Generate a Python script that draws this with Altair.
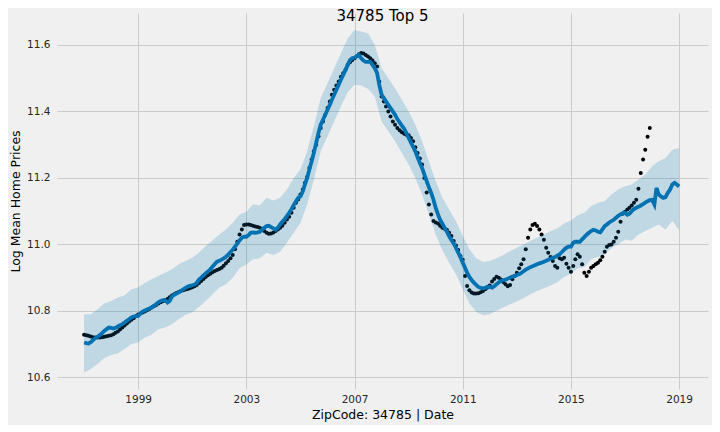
import altair as alt
import pandas as pd

TITLE = "34785 Top 5"
X_TITLE = "ZipCode: 34785 | Date"
Y_TITLE = "Log Mean Home Prices"

X_TICK_YEARS = [1999, 2003, 2007, 2011, 2015, 2019]
Y_TICKS = [10.6, 10.8, 11.0, 11.2, 11.4, 11.6]

# observed log mean price, monthly 1997-01 .. 2017-12
OBSERVED = [
    10.728, 10.727, 10.725, 10.723, 10.721, 10.720, 10.720, 10.720, 10.721, 10.722, 10.724, 10.725,
    10.727, 10.730, 10.734, 10.738, 10.744, 10.750, 10.756, 10.762, 10.768, 10.773, 10.778, 10.784,
    10.789, 10.792, 10.795, 10.798, 10.802, 10.806, 10.810, 10.814, 10.818, 10.822, 10.826, 10.829,
    10.832, 10.836, 10.841, 10.846, 10.850, 10.854, 10.857, 10.860, 10.862, 10.864, 10.866, 10.868,
    10.871, 10.874, 10.878, 10.884, 10.890, 10.896, 10.902, 10.907, 10.912, 10.916, 10.920, 10.923,
    10.926, 10.930, 10.936, 10.943, 10.950, 10.958, 10.968, 10.985, 11.008, 11.030, 11.045, 11.058,
    11.060, 11.060, 11.058, 11.056, 11.054, 11.052, 11.050, 11.046, 11.040, 11.035, 11.032, 11.033,
    11.036, 11.040, 11.045, 11.050, 11.056, 11.065, 11.075, 11.083, 11.095, 11.110, 11.125, 11.135,
    11.150, 11.165, 11.185, 11.203, 11.230, 11.255, 11.280, 11.300, 11.325, 11.350, 11.370, 11.390,
    11.410, 11.430, 11.450, 11.465, 11.478, 11.490, 11.504, 11.515, 11.525, 11.540, 11.548, 11.555,
    11.560, 11.566, 11.572, 11.576, 11.574, 11.570, 11.565, 11.560, 11.553, 11.545, 11.535, 11.490,
    11.445, 11.430, 11.415, 11.400, 11.385, 11.370, 11.360, 11.350, 11.343, 11.337, 11.333, 11.330,
    11.328, 11.320, 11.310, 11.292, 11.275, 11.258, 11.240, 11.200, 11.156, 11.120, 11.090, 11.070,
    11.066, 11.063, 11.056, 11.050, 11.047, 11.044, 11.035, 11.025, 11.010, 10.997, 10.983, 10.965,
    10.954, 10.905, 10.875, 10.862, 10.855, 10.852, 10.852, 10.853, 10.856, 10.860, 10.865, 10.870,
    10.876, 10.888, 10.896, 10.903, 10.900, 10.894, 10.887, 10.880, 10.874, 10.878, 10.895, 10.905,
    10.915, 10.928, 10.940, 10.955, 10.985, 11.020, 11.045, 11.058, 11.062, 11.055, 11.045, 11.030,
    11.014, 10.990, 10.975, 10.962, 10.950, 10.935, 10.930, 10.958, 10.955, 10.960, 10.942, 10.930,
    10.918, 10.935, 10.955, 10.970, 10.963, 10.940, 10.915, 10.905, 10.918, 10.930, 10.935, 10.940,
    10.945, 10.952, 10.963, 10.978, 10.993, 10.998, 11.000, 11.008, 11.020, 11.038, 11.068, 11.092,
    11.098, 11.105, 11.110, 11.117, 11.125, 11.134, 11.167, 11.215, 11.255, 11.285, 11.324, 11.350,
]

# fitted trend, monthly 1997-01 .. 2019-01
YHAT = [
    10.705, 10.703, 10.702, 10.706, 10.712, 10.718, 10.722, 10.727, 10.733, 10.740, 10.745, 10.750,
    10.749, 10.747, 10.749, 10.753, 10.757, 10.760, 10.765, 10.770, 10.775, 10.780, 10.783, 10.784,
    10.785, 10.792, 10.798, 10.801, 10.804, 10.807, 10.810, 10.815, 10.820, 10.826, 10.830, 10.832,
    10.832, 10.825, 10.830, 10.843, 10.848, 10.852, 10.856, 10.860, 10.865, 10.869, 10.873, 10.875,
    10.877, 10.879, 10.884, 10.894, 10.900, 10.907, 10.913, 10.919, 10.925, 10.933, 10.941, 10.948,
    10.951, 10.954, 10.958, 10.963, 10.969, 10.977, 10.984, 10.993, 11.002, 11.012, 11.020, 11.023,
    11.023, 11.028, 11.035, 11.036, 11.035, 11.036, 11.038, 11.044, 11.050, 11.055, 11.056, 11.052,
    11.048, 11.044, 11.050, 11.060, 11.068, 11.076, 11.085, 11.095, 11.106, 11.118, 11.130, 11.140,
    11.145, 11.160, 11.180, 11.200, 11.225, 11.250, 11.276, 11.305, 11.335, 11.360, 11.375, 11.390,
    11.405, 11.420, 11.435, 11.450, 11.465, 11.480, 11.495, 11.510, 11.525, 11.540, 11.555, 11.560,
    11.562, 11.566, 11.570, 11.560, 11.553, 11.549, 11.549, 11.549, 11.540, 11.530, 11.516, 11.480,
    11.450, 11.440, 11.430, 11.420, 11.410, 11.400, 11.390, 11.377, 11.367, 11.357, 11.348, 11.335,
    11.320, 11.306, 11.294, 11.280, 11.262, 11.245, 11.230, 11.210, 11.190, 11.172, 11.155, 11.135,
    11.110, 11.090, 11.074, 11.062, 11.050, 11.038, 11.025, 11.013, 11.003, 10.990, 10.975, 10.962,
    10.945, 10.930, 10.915, 10.902, 10.893, 10.885, 10.878, 10.872, 10.869, 10.868, 10.869, 10.873,
    10.872, 10.870, 10.874, 10.880, 10.886, 10.890, 10.892, 10.894, 10.897, 10.900, 10.903, 10.905,
    10.908, 10.910, 10.914, 10.919, 10.924, 10.928, 10.931, 10.934, 10.937, 10.940, 10.943, 10.945,
    10.948, 10.951, 10.954, 10.957, 10.960, 10.962, 10.966, 10.970, 10.977, 10.984, 10.990, 10.993,
    10.993, 11.005, 11.008, 11.008, 11.008, 11.015, 11.022, 11.029, 11.035, 11.040, 11.044, 11.042,
    11.038, 11.036, 11.045, 11.055, 11.060, 11.066, 11.070, 11.074, 11.080, 11.086, 11.090, 11.094,
    11.095, 11.089, 11.092, 11.100, 11.106, 11.110, 11.113, 11.117, 11.121, 11.126, 11.130, 11.133,
    11.134, 11.120, 11.170, 11.150, 11.144, 11.140, 11.142, 11.155, 11.165, 11.180, 11.185, 11.180,
    11.174,
]

# uncertainty interval, quarterly 1997-Q1 .. 2019-Q1
YHAT_UPPER = [
    10.789, 10.790, 10.805, 10.822, 10.830, 10.840, 10.846, 10.865,
    10.870, 10.884, 10.895, 10.905, 10.915, 10.925, 10.940, 10.950,
    10.960, 10.975, 10.995, 11.012, 11.030, 11.045, 11.065, 11.090,
    11.098, 11.120, 11.118, 11.140, 11.132, 11.140, 11.165, 11.200,
    11.225, 11.280, 11.355, 11.440, 11.485, 11.530, 11.575, 11.620,
    11.645, 11.640, 11.635, 11.600, 11.530, 11.500, 11.470, 11.435,
    11.400, 11.360, 11.310, 11.250, 11.190, 11.140, 11.105, 11.070,
    11.025, 10.985, 10.958, 10.948, 10.950, 10.958, 10.968, 10.980,
    10.990, 11.000, 11.010, 11.020, 11.030, 11.040, 11.048, 11.063,
    11.072, 11.088, 11.095, 11.115, 11.125, 11.130, 11.150, 11.165,
    11.175, 11.180, 11.195, 11.210, 11.235, 11.250, 11.260, 11.285,
    11.290,
]
YHAT_LOWER = [
    10.615, 10.625, 10.640, 10.658, 10.667, 10.672, 10.685, 10.700,
    10.705, 10.720, 10.728, 10.745, 10.750, 10.760, 10.775, 10.788,
    10.795, 10.812, 10.830, 10.850, 10.870, 10.880, 10.900, 10.928,
    10.940, 10.955, 10.958, 10.975, 10.968, 10.978, 11.005, 11.035,
    11.065, 11.120, 11.195, 11.280, 11.325, 11.370, 11.415, 11.458,
    11.480, 11.478, 11.468, 11.445, 11.370, 11.340, 11.310, 11.275,
    11.240, 11.200, 11.150, 11.090, 11.030, 10.982, 10.945, 10.910,
    10.865, 10.822, 10.797, 10.787, 10.790, 10.800, 10.810, 10.820,
    10.828, 10.838, 10.850, 10.860, 10.868, 10.876, 10.886, 10.902,
    10.912, 10.928, 10.932, 10.955, 10.962, 10.970, 10.988, 11.000,
    11.015, 11.012, 11.030, 11.040, 11.050, 11.060, 11.045, 11.070,
    11.044,
]

obs_df = pd.DataFrame({
    "ds": pd.date_range("1997-01-01", periods=len(OBSERVED), freq="MS"),
    "y": OBSERVED,
})
fc_df = pd.DataFrame({
    "ds": pd.date_range("1997-01-01", periods=len(YHAT), freq="MS"),
    "yhat": YHAT,
})
band_df = pd.DataFrame({
    "ds": pd.date_range("1997-01-01", periods=len(YHAT_UPPER), freq="QS"),
    "lower": YHAT_LOWER,
    "upper": YHAT_UPPER,
})

GRID = "#cbcbcb"
LABEL_COLOR = "#262626"

x_scale = alt.Scale(domain=[
    alt.DateTime(year=1996, month=1, date=1),
    alt.DateTime(year=2020, month=1, date=26),
])
y_scale = alt.Scale(domain=[10.565, 11.696], nice=False, zero=False)

x_axis = alt.Axis(
    title=X_TITLE,
    values=[alt.DateTime(year=y, month=1, date=1) for y in X_TICK_YEARS],
    format="%Y",
    grid=True, gridColor=GRID, gridWidth=1,
    domain=False, ticks=False,
    labelFontSize=10.5, labelColor=LABEL_COLOR, labelPadding=5,
    titleFontSize=12.5, titleFontWeight="normal", titleColor="#000000", titlePadding=4,
)
y_axis = alt.Axis(
    title=Y_TITLE,
    values=Y_TICKS,
    format=".1f",
    grid=True, gridColor=GRID, gridWidth=1,
    domain=False, ticks=False,
    labelFontSize=10.5, labelColor=LABEL_COLOR, labelPadding=7,
    titleFontSize=12.5, titleFontWeight="normal", titleColor="#000000", titlePadding=4,
)

x_enc = alt.X("ds:T", scale=x_scale, axis=x_axis)

# matplotlib draw order: points, trend line, then the shaded interval
points = alt.Chart(obs_df).mark_circle(size=16, color="#000000", opacity=1).encode(
    x=x_enc,
    y=alt.Y("y:Q", scale=y_scale, axis=y_axis),
)

trend = alt.Chart(fc_df).mark_line(color="#0072B2", strokeWidth=3.8).encode(
    x=x_enc,
    y=alt.Y("yhat:Q", scale=y_scale, axis=y_axis),
)

band = alt.Chart(band_df).mark_area(color="#0072B2", opacity=0.2).encode(
    x=x_enc,
    y=alt.Y("lower:Q", scale=y_scale, axis=y_axis),
    y2="upper:Q",
)

chart = alt.layer(points, trend, band).properties(
    width=651,
    height=376,
    title=alt.TitleParams(
        TITLE, fontSize=15, fontWeight="normal", color="#000000",
        anchor="middle", frame="group", baseline="alphabetic", offset=-23,
    ),
    autosize=alt.AutoSizeParams(type="none"),
    padding={"left": 49, "top": 5, "right": 4, "bottom": 36},
).configure(
    background="#f0f0f0",
    font="DejaVu Sans",
).configure_view(
    stroke=None,
)

chart.save("out.html", embed_options={"renderer": "svg", "actions": False})
